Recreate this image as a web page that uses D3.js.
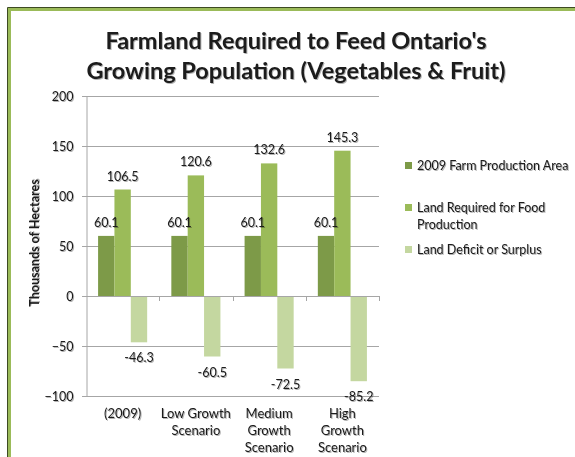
<!DOCTYPE html>
<html>
<head>
<meta charset="utf-8">
<script src="https://cdnjs.cloudflare.com/ajax/libs/d3/7.8.5/d3.min.js"></script>
<style>
  body { margin: 0; background: #fff; }
  svg text { font-family: Lato, "Open Sans", sans-serif; fill: #1a1a1a; }
</style>
</head>
<body>
<div id="container"></div>
<script>
var categories = [["(2009)"], ["Low Growth", "Scenario"], ["Medium", "Growth", "Scenario"], ["High", "Growth", "Scenario"]];
var seriesNames = ["2009 Farm Production Area", "Land Required for Food Production", "Land Deficit or Surplus"];
var farmArea = [60.1, 60.1, 60.1, 60.1];
var landRequired = [106.5, 120.6, 132.6, 145.3];
var landDeficit = [-46.3, -60.5, -72.5, -85.2];
var yTicks = [-100, -50, 0, 50, 100, 150, 200];

var colors = ["#7d9a48", "#9bbb59", "#c4d7a0"];
var width = 575,
    height = 457;

var svg = d3.select("div#container")
    .append("svg")
    .attr("width", width)
    .attr("height", height);

// soft text shadow like the office chart
var shadow = svg.append("defs").append("filter")
    .attr("id", "shadow")
    .attr("x", "-10%").attr("y", "-20%")
    .attr("width", "130%").attr("height", "150%");
shadow.append("feDropShadow")
    .attr("dx", 1).attr("dy", 1)
    .attr("stdDeviation", 0.7)
    .attr("flood-color", "#000")
    .attr("flood-opacity", 0.3);

// frame (only top and left edges visible)
svg.append("path")
    .attr("d", "M7.5,457 V7.5 H575")
    .attr("fill", "none")
    .attr("stroke", "#3d4a22")
    .attr("stroke-width", 1);
svg.append("path")
    .attr("d", "M9.5,457 V9.5 H575")
    .attr("fill", "none")
    .attr("stroke", "#9bbb59")
    .attr("stroke-width", 3);

var plot = { left: 86, right: 379, top: 96, bottom: 396 };

var x0 = d3.scaleBand()
    .domain(d3.range(categories.length))
    .range([plot.left, plot.right])
    .paddingInner(0.33)
    .paddingOuter(0.165);

var x1 = d3.scaleBand()
    .domain([0, 1, 2])
    .range([0, x0.bandwidth()]);

var y = d3.scaleLinear()
    .domain([-100, 200])
    .range([plot.bottom, plot.top]);

// gridlines
svg.append("g")
    .selectAll("line")
    .data(yTicks)
    .enter().append("line")
    .attr("x1", plot.left - 4)
    .attr("x2", plot.right)
    .attr("y1", d => Math.round(y(d)) + 0.5)
    .attr("y2", d => Math.round(y(d)) + 0.5)
    .attr("stroke", "#a6a6a6")
    .attr("stroke-width", 1);

// y axis
var yAxis = svg.append("g")
    .attr("transform", "translate(" + (plot.left + 0.5) + ",0.5)")
    .call(d3.axisLeft(y).tickValues(yTicks).tickSize(0).tickPadding(13));
yAxis.select(".domain").attr("stroke", "#a6a6a6");
yAxis.selectAll("text")
    .style("font-size", "12.5px")
    .attr("filter", "url(#shadow)");

// bars
var data = categories.map(function (c, i) {
    return [farmArea[i], landRequired[i], landDeficit[i]];
});

var groups = svg.append("g")
    .selectAll("g")
    .data(data)
    .enter().append("g")
    .attr("transform", (d, i) => "translate(" + x0(i) + ",0)");

groups.selectAll("rect")
    .data(d => d)
    .enter().append("rect")
    .attr("x", (d, j) => x1(j))
    .attr("width", x1.bandwidth())
    .attr("y", d => y(Math.max(0, d)))
    .attr("height", d => Math.abs(y(d) - y(0)))
    .attr("fill", (d, j) => colors[j]);

groups.selectAll("text")
    .data(d => d)
    .enter().append("text")
    .attr("x", (d, j) => x1(j) + x1.bandwidth() / 2)
    .attr("y", d => d >= 0 ? y(d) - 9 : y(d) + 20)
    .attr("text-anchor", "middle")
    .style("font-size", "12.5px")
    .attr("filter", "url(#shadow)")
    .text(d => d.toFixed(1));

// x axis at zero
svg.append("line")
    .attr("x1", plot.left)
    .attr("x2", plot.right)
    .attr("y1", Math.round(y(0)) + 0.5)
    .attr("y2", Math.round(y(0)) + 0.5)
    .attr("stroke", "#a6a6a6");

svg.append("g")
    .selectAll("line")
    .data(d3.range(1, categories.length + 1))
    .enter().append("line")
    .attr("x1", i => Math.round(plot.left + x0.step() * i) + 0.5)
    .attr("x2", i => Math.round(plot.left + x0.step() * i) + 0.5)
    .attr("y1", y(0))
    .attr("y2", y(0) + 5)
    .attr("stroke", "#a6a6a6");

// category labels
svg.append("g")
    .selectAll("text")
    .data(categories)
    .enter().append("text")
    .attr("x", (d, i) => x0(i) + x0.bandwidth() / 2)
    .attr("y", 418)
    .attr("text-anchor", "middle")
    .style("font-size", "13px")
    .attr("filter", "url(#shadow)")
    .selectAll("tspan")
    .data(d => d)
    .enter().append("tspan")
    .attr("x", function () { return this.parentNode.getAttribute("x"); })
    .attr("dy", (d, i) => i === 0 ? 0 : 16.8)
    .text(d => d);

// y axis title
svg.append("text")
    .attr("transform", "translate(39,243) rotate(-90)")
    .attr("text-anchor", "middle")
    .style("font-size", "12.5px")
    .style("font-weight", "bold")
    .attr("filter", "url(#shadow)")
    .text("Thousands of Hectares");

// title
var titleLines = ["Farmland Required to Feed Ontario's", "Growing Population (Vegetables & Fruit)"];
svg.append("g")
    .selectAll("text")
    .data(titleLines)
    .enter().append("text")
    .attr("x", 296)
    .attr("y", (d, i) => 49 + i * 30)
    .attr("text-anchor", "middle")
    .style("font-size", "23.5px")
    .style("font-weight", "bold")
    .attr("filter", "url(#shadow)")
    .text(d => d);

// legend
var legendItems = [
    { lines: ["2009 Farm Production Area"], y: 162 },
    { lines: ["Land Required  for Food", "Production"], y: 204 },
    { lines: ["Land Deficit or Surplus"], y: 246 }
];

var legend = svg.append("g")
    .selectAll("g")
    .data(legendItems)
    .enter().append("g")
    .attr("transform", d => "translate(405," + d.y + ")");

legend.append("rect")
    .attr("width", 7)
    .attr("height", 7)
    .attr("fill", (d, i) => colors[i]);

legend.append("text")
    .attr("y", 8)
    .style("font-size", "12.5px")
    .attr("filter", "url(#shadow)")
    .selectAll("tspan")
    .data(d => d.lines)
    .enter().append("tspan")
    .attr("x", 12)
    .attr("dy", (d, i) => i === 0 ? 0 : 16.5)
    .text(d => d);
</script>
</body>
</html>
